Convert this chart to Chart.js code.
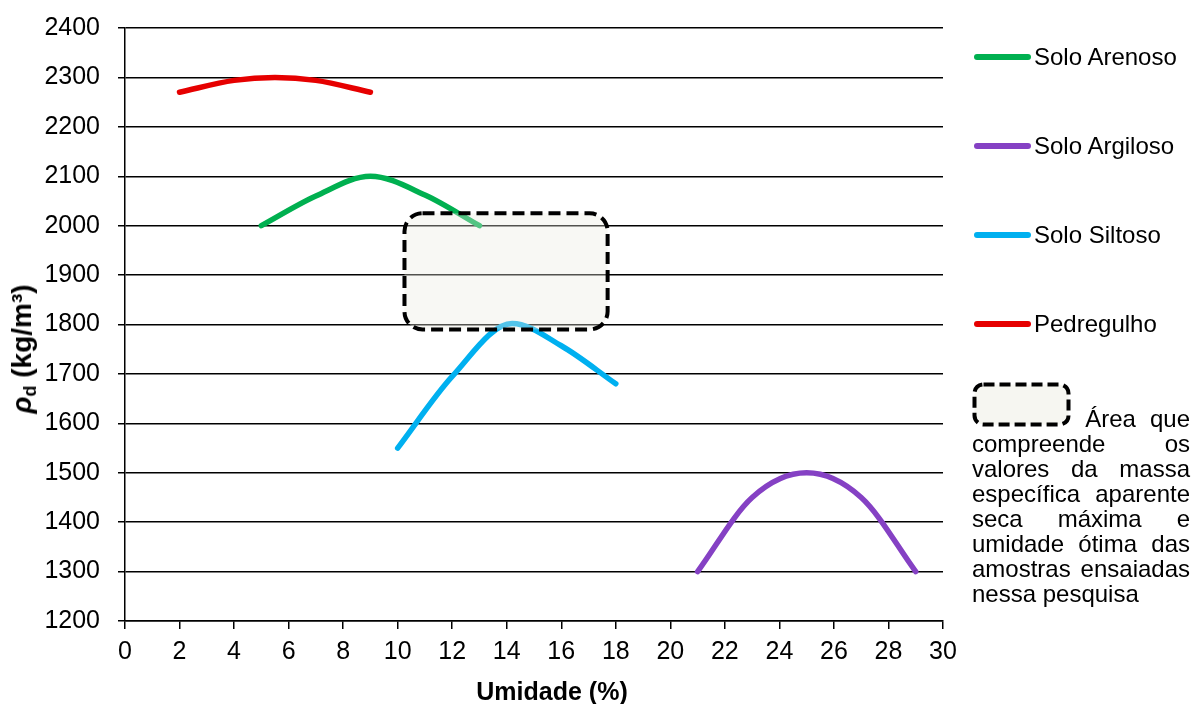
<!DOCTYPE html>
<html lang="pt">
<head>
<meta charset="utf-8">
<title>Curvas de compactação</title>
<script src="https://cdn.jsdelivr.net/npm/chart.js@4/dist/chart.umd.min.js"></script>
<style>
  html, body { margin: 0; padding: 0; background: #fff; }
  #wrap { position: relative; width: 1192px; height: 704px; font-family: "Liberation Sans", Arial, sans-serif; color: #000; }
  #grafico { position: absolute; left: 0; top: 0; }
  .ytitle { position: absolute; left: 22px; top: 349px; transform: translate(-50%, -50%) rotate(-90deg);
            font-weight: bold; font-size: 28px; line-height: 28px; white-space: nowrap; }
  .ytitle i { font-style: italic; }
  .ytitle sub { font-size: 18px; vertical-align: -5px; line-height: 0; }
  .leg-item { position: absolute; left: 974px; height: 28px; width: 215px; }
  .leg-line { position: absolute; left: 0; top: 11px; width: 57px; height: 6px; border-radius: 3px; }
  .leg-text { position: absolute; left: 60px; top: 0; line-height: 28px; font-size: 24px; white-space: nowrap; }
  .nota { position: absolute; left: 972px; top: 382px; width: 218px; font-size: 24px; line-height: 25px; text-align: justify; }
  .nota svg { vertical-align: baseline; }
</style>
</head>
<body>
<div id="wrap">
  <canvas id="grafico" width="1192" height="704"></canvas>
  <div class="ytitle"><i>ρ</i><sub>d</sub> (kg/m³)</div>
  <div id="legenda"></div>
  <div class="nota"><svg width="99" height="45" viewBox="0 0 99 45"><rect x="2.5" y="2.5" width="94" height="40" rx="9" ry="9" fill="#f6f6f1" stroke="#000" stroke-width="4" stroke-dasharray="11 5"/></svg> Área que compreende os valores da massa específica aparente seca máxima e umidade ótima das amostras ensaiadas nessa pesquisa</div>
</div>
<script>
// Curvas de compactação: umidade (%) x massa específica aparente seca (kg/m³)
const serieNomes = ['Solo Arenoso', 'Solo Argiloso', 'Solo Siltoso', 'Pedregulho'];
const serieCores = ['#00B050', '#8541C4', '#00B0F0', '#E60000'];

const umidadeArenoso = [5, 7, 9, 11, 13];
const massaArenoso   = [2000, 2060, 2100, 2062, 2000];

const umidadeArgiloso = [21, 23, 25, 27, 29];
const massaArgiloso   = [1300, 1450, 1500, 1450, 1300];

const umidadeSiltoso = [10, 12, 14.2, 16, 18];
const massaSiltoso   = [1550, 1695, 1802, 1757, 1680];

const umidadePedregulho = [2, 4, 5.5, 7, 9];
const massaPedregulho   = [2270, 2294, 2300, 2294, 2270];

// faixa dos ensaios desta pesquisa (umidade ótima e massa específica máxima)
const areaUmidade = [10.25, 17.7];
const areaMassa   = [1790, 2025];

const ticksUmidade = [0, 2, 4, 6, 8, 10, 12, 14, 16, 18, 20, 22, 24, 26, 28, 30];
const ticksMassa   = [1200, 1300, 1400, 1500, 1600, 1700, 1800, 1900, 2000, 2100, 2200, 2300, 2400];

const tituloX = 'Umidade (%)';
const fonte = '"Liberation Sans", Arial, sans-serif';

const pares = (xs, ys) => xs.map((v, i) => ({ x: v, y: ys[i] }));
const series = [
  pares(umidadeArenoso, massaArenoso),
  pares(umidadeArgiloso, massaArgiloso),
  pares(umidadeSiltoso, massaSiltoso),
  pares(umidadePedregulho, massaPedregulho)
];

// legenda das curvas
const legenda = document.getElementById('legenda');
const legendaY = [57, 146, 235, 324];
serieNomes.forEach((nome, i) => {
  const item = document.createElement('div');
  item.className = 'leg-item';
  item.style.top = (legendaY[i] - 14) + 'px';
  const linha = document.createElement('div');
  linha.className = 'leg-line';
  linha.style.background = serieCores[i];
  const texto = document.createElement('div');
  texto.className = 'leg-text';
  texto.textContent = nome;
  item.appendChild(linha);
  item.appendChild(texto);
  legenda.appendChild(item);
});

// retângulo tracejado da faixa dos ensaios + título do eixo x
const areaEnsaios = {
  id: 'areaEnsaios',
  afterDatasetsDraw(chart) {
    const { ctx, scales: { x, y } } = chart;
    const x0 = x.getPixelForValue(areaUmidade[0]);
    const x1 = x.getPixelForValue(areaUmidade[1]);
    const y0 = y.getPixelForValue(areaMassa[1]);
    const y1 = y.getPixelForValue(areaMassa[0]);
    ctx.save();
    ctx.beginPath();
    ctx.roundRect(x0, y0, x1 - x0, y1 - y0, 18);
    ctx.fillStyle = 'rgba(236, 236, 224, 0.35)';
    ctx.fill();
    ctx.setLineDash([12, 6]);
    ctx.lineWidth = 4;
    ctx.strokeStyle = '#000';
    ctx.stroke();
    ctx.restore();
  },
  afterDraw(chart) {
    const { ctx } = chart;
    ctx.save();
    ctx.font = 'bold 25px ' + fonte;
    ctx.fillStyle = '#000';
    ctx.textAlign = 'center';
    ctx.textBaseline = 'alphabetic';
    ctx.fillText(tituloX, 552, 700);
    ctx.restore();
  }
};

new Chart(document.getElementById('grafico'), {
  type: 'line',
  data: {
    datasets: series.map((dados, i) => ({
      label: serieNomes[i],
      data: dados,
      borderColor: serieCores[i],
      backgroundColor: serieCores[i],
      fill: false
    }))
  },
  options: {
    responsive: false,
    animation: false,
    devicePixelRatio: 1,
    layout: { padding: { left: 0, right: 249, top: 28, bottom: 0 } },
    plugins: { legend: { display: false }, tooltip: { enabled: false } },
    elements: {
      point: { radius: 0, hoverRadius: 0 },
      line: { cubicInterpolationMode: 'monotone', borderWidth: 5.5, borderCapStyle: 'round', borderJoinStyle: 'round' }
    },
    scales: {
      x: {
        type: 'linear',
        min: 0, max: 30,
        afterBuildTicks: (s) => { s.ticks = ticksUmidade.map(v => ({ value: v })); },
        afterFit: (s) => { s.height = 83; s.paddingLeft = 0; s.paddingRight = 0; },
        grid: { drawOnChartArea: false, drawTicks: true, tickLength: 8, color: '#000', lineWidth: 1.5 },
        border: { display: true, color: '#000', width: 1.5 },
        ticks: { padding: 8, color: '#000', font: { size: 25, family: fonte }, maxRotation: 0, autoSkip: false,
                 callback: (v) => String(v) }
      },
      y: {
        type: 'linear',
        min: 1200, max: 2400,
        afterBuildTicks: (s) => { s.ticks = ticksMassa.map(v => ({ value: v })); },
        afterFit: (s) => { s.width = 125; s.paddingTop = 0; s.paddingBottom = 0; },
        grid: { color: '#000', lineWidth: 1.5, tickLength: 7 },
        border: { display: true, color: '#000', width: 1.5 },
        ticks: { padding: 18, color: '#000', font: { size: 25, family: fonte }, autoSkip: false,
                 callback: (v) => String(v) }
      }
    }
  },
  plugins: [areaEnsaios]
});
</script>
</body>
</html>
